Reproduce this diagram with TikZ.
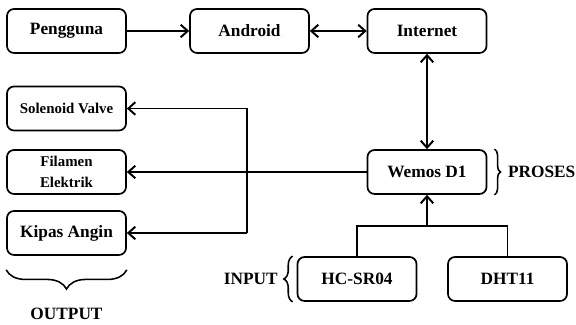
\documentclass[tikz,border=0pt]{standalone}
\usepackage{fontspec}
\setmainfont{Liberation Serif}
\usetikzlibrary{decorations.pathreplacing, arrows.meta}

\begin{document}
\begin{tikzpicture}[>={Straight Barb[length=5pt,width=9pt]},
    kotak/.style={draw, rounded corners=5pt, line width=1.2pt, minimum width=2.975cm,
        minimum height=1.1cm, align=center, font=\bfseries\fontsize{12.3}{13}\selectfont},
    kecil/.style={font=\bfseries\fontsize{10.6}{14.5}\selectfont},
    garis/.style={line width=1.4pt},
    kurung/.style={decorate, line width=1.1pt, decoration={brace, amplitude=#1}},
    label/.style={font=\bfseries\fontsize{12.3}{13}\selectfont}]
            \useasboundingbox (0,0) rectangle (14.4,8.125);

            % draw the boxes
            \node[kotak] (pengguna) at (1.6625,7.35) {Pengguna};
            \node[kotak] (android) at (6.2375,7.35) {Android};
            \node[kotak] (internet) at (10.675,7.35) {Internet};
            \node[kotak,kecil] (solenoid) at (1.6625,5.4125) {Solenoid Valve};
            \node[kotak,kecil] (filamen) at (1.6625,3.825) {Filamen\\Elektrik};
            \node[kotak] (kipas) at (1.6625,2.3) {Kipas Angin};
            \node[kotak] (wemos) at (10.675,3.825) {Wemos D1};
            \node[kotak] (hcsr) at (8.925,1.15) {HC-SR04};
            \node[kotak] (dht) at (12.6875,1.15) {DHT11};

            % top row
            \draw[garis,->] (pengguna) -- (android);
            \draw[garis,<->] (android) -- (internet);
            \draw[garis,<->] (internet) -- (wemos);

            % wemos to the outputs
            \coordinate (bus) at (6.175,3.825);
            \draw[garis,->] (wemos) -- (filamen);
            \draw[garis] (bus |- solenoid.east) -- (bus |- kipas.east);
            \draw[garis,->] (bus |- solenoid.east) -- (solenoid.east);
            \draw[garis,->] (bus |- kipas.east) -- (kipas.east);

            % sensors to wemos
            \coordinate (join) at (10.675,2.475);
            \draw[garis] (hcsr.north) |- (join) -| (dht.north);
            \draw[garis,->] (join) -- (wemos.south);

            % braces and the text at the end
            \draw[kurung=0.48cm] ([yshift=-0.35cm]kipas.south east) -- ([yshift=-0.35cm]kipas.south west)
                node[label, midway, below=0.82cm] (output) {OUTPUT};
            \draw[kurung=0.15cm] ([xshift=0.18cm]wemos.north east) -- ([xshift=0.18cm]wemos.south east)
                node[label, midway, right=0.2cm] (proses) {PROSES};
            \draw[kurung=0.22cm] ([xshift=-0.1cm]hcsr.south west) -- ([xshift=-0.1cm]hcsr.north west)
                node[label, midway, left=0.24cm] (input) {INPUT};
        \end{tikzpicture}
\end{document}
